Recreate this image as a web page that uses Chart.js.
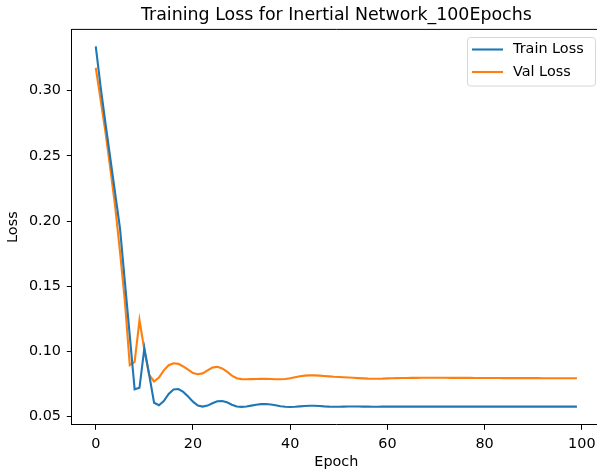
<!DOCTYPE html>
<html>
<head>
<meta charset="utf-8">
<script src="https://cdn.jsdelivr.net/npm/chart.js@4"></script>
<style>
  html, body { margin: 0; padding: 0; background: #fff; overflow: hidden; }
  #wrap { position: relative; width: 597px; height: 471px; overflow: hidden; }
  canvas { display: block; }
</style>
</head>
<body>
<div id="wrap"><canvas id="myChart" width="604" height="471"></canvas></div>
<script>
// eje X
var epochs = [];
for (var i = 0; i < 100; i++) epochs.push(i);

// eje Y
var trainLoss = [
  0.334, 0.303, 0.275, 0.248, 0.221, 0.194, 0.153, 0.112, 0.071, 0.0722,
  0.1025, 0.082, 0.0607, 0.0588, 0.062, 0.0675, 0.0708, 0.0712, 0.069, 0.0655,
  0.0615, 0.0585, 0.0577, 0.0585, 0.0603, 0.0618, 0.062, 0.061, 0.0592, 0.0578,
  0.0575, 0.0578, 0.0585, 0.0592, 0.0596, 0.0597, 0.0594, 0.0588, 0.058, 0.0576,
  0.0574, 0.0576, 0.0579, 0.0582, 0.0584, 0.0584, 0.0582, 0.0579, 0.0577, 0.0576,
  0.0576, 0.0577, 0.0578, 0.0578, 0.0578, 0.0577, 0.0577, 0.0576, 0.0576, 0.0577,
  0.0577, 0.0577, 0.0577, 0.0577, 0.0577, 0.0577, 0.0577, 0.0577, 0.0577, 0.0577,
  0.0577, 0.0577, 0.0577, 0.0577, 0.0577, 0.0577, 0.0577, 0.0577, 0.0577, 0.0577,
  0.0577, 0.0577, 0.0577, 0.0577, 0.0577, 0.0577, 0.0577, 0.0577, 0.0577, 0.0577,
  0.0577, 0.0577, 0.0577, 0.0577, 0.0577, 0.0577, 0.0577, 0.0577, 0.0577, 0.0577
];
var valLoss = [
  0.3176, 0.293, 0.268, 0.240, 0.211, 0.176, 0.138, 0.0896, 0.092, 0.124,
  0.101, 0.082, 0.077, 0.080, 0.0855, 0.0895, 0.091, 0.0905, 0.0885, 0.086,
  0.0835, 0.0826, 0.0832, 0.0855, 0.0877, 0.0882, 0.087, 0.0845, 0.0815, 0.0795,
  0.0788, 0.0787, 0.0788, 0.0789, 0.079, 0.079, 0.0789, 0.0787, 0.0787, 0.0789,
  0.0795, 0.0803, 0.081, 0.0815, 0.0817, 0.0817, 0.0815, 0.0812, 0.0809, 0.0806,
  0.0804, 0.0802, 0.080, 0.0798, 0.0796, 0.0794, 0.0792, 0.0791, 0.0791, 0.0792,
  0.0794, 0.0795, 0.0796, 0.0797, 0.0797, 0.0798, 0.0798, 0.0799, 0.0799, 0.0799,
  0.0799, 0.0799, 0.0799, 0.0798, 0.0798, 0.0798, 0.0798, 0.0798, 0.0797, 0.0797,
  0.0797, 0.0797, 0.0797, 0.0797, 0.0796, 0.0796, 0.0796, 0.0796, 0.0796, 0.0796,
  0.0796, 0.0796, 0.0795, 0.0795, 0.0795, 0.0795, 0.0795, 0.0795, 0.0795, 0.0795
];

var xTicks = [0, 20, 40, 60, 80, 100];
var yTicks = [0.05, 0.10, 0.15, 0.20, 0.25, 0.30];

var FONT = 'DejaVu Sans';

function puntos(ys) {
  return ys.map(function (v, i) { return { x: epochs[i], y: v }; });
}

// borde superior, titulo y leyenda al estilo matplotlib
var marco = {
  id: 'marco',
  afterDraw: function (chart) {
    var c = chart.ctx, a = chart.chartArea;
    c.save();
    c.strokeStyle = '#000';
    c.lineWidth = 1;
    c.beginPath();
    c.moveTo(a.left, a.top);
    c.lineTo(a.right, a.top);
    c.stroke();

    c.fillStyle = '#000';
    c.font = '17.4px "' + FONT + '"';
    c.textAlign = 'center';
    c.textBaseline = 'middle';
    c.fillText('Training Loss for Inertial Network_100Epochs', (a.left + a.right) / 2, 15);

    // leyenda
    var x0 = 467.5, y0 = 37.5, w = 128, h = 48.5, r = 3;
    c.beginPath();
    c.roundRect(x0, y0, w, h, r);
    c.fillStyle = 'rgba(255,255,255,0.8)';
    c.fill();
    c.strokeStyle = '#d6d6d6';
    c.stroke();
    c.font = '14.4px "' + FONT + '"';
    c.textAlign = 'left';
    chart.data.datasets.forEach(function (ds, k) {
      var yy = 49.5 + k * 22.5;
      c.strokeStyle = ds.borderColor;
      c.lineWidth = 2.1;
      c.beginPath();
      c.moveTo(472, yy);
      c.lineTo(503, yy);
      c.stroke();
      c.fillStyle = '#000';
      c.fillText(ds.label, 513, yy);
    });
    c.restore();
  }
};

var ctx = document.getElementById('myChart').getContext('2d');
var myChart = new Chart(ctx, {
  type: 'line',
  data: {
    datasets: [{
      label: 'Train Loss',
      data: puntos(trainLoss),
      borderColor: '#1f77b4',
      borderWidth: 2.1,
      pointRadius: 0,
      tension: 0,
      fill: false
    }, {
      label: 'Val Loss',
      data: puntos(valLoss),
      borderColor: '#ff7f0e',
      borderWidth: 2.1,
      pointRadius: 0,
      tension: 0,
      fill: false
    }]
  },
  options: {
    responsive: false,
    animation: false,
    devicePixelRatio: 1,
    layout: { padding: { left: 0, right: 3, top: 29.4, bottom: 0 } },
    plugins: {
      legend: { display: false },
      title: { display: false },
      tooltip: { enabled: false }
    },
    scales: {
      x: {
        type: 'linear',
        min: -4.95,
        max: 103.95,
        afterBuildTicks: function (s) { s.ticks = xTicks.map(function (v) { return { value: v }; }); },
        afterFit: function (s) {
          s.height = 46.1;
          s.paddingLeft = 0;
          s.paddingRight = 0;
        },
        grid: { drawOnChartArea: false, drawTicks: true, tickLength: 4.9, tickColor: '#000' },
        border: { display: true, color: '#000', width: 1 },
        ticks: {
          color: '#000',
          padding: 5.5,
          maxRotation: 0,
          font: { family: FONT, size: 14.4 },
          callback: function (v) { return String(v); }
        },
        title: {
          display: true,
          text: 'Epoch',
          color: '#000',
          font: { family: FONT, size: 14.4 },
          padding: 0.3
        }
      },
      y: {
        min: 0.0437,
        max: 0.347,
        afterBuildTicks: function (s) { s.ticks = yTicks.map(function (v) { return { value: v }; }); },
        afterFit: function (s) {
          s.width = 71.7;
          s.paddingTop = 0;
          s.paddingBottom = 0;
        },
        grid: { drawOnChartArea: false, drawTicks: true, tickLength: 4.9, tickColor: '#000' },
        border: { display: true, color: '#000', width: 1 },
        ticks: {
          color: '#000',
          padding: 5.8,
          font: { family: FONT, size: 14.4 },
          callback: function (v) { return v.toFixed(2); }
        },
        title: {
          display: true,
          text: 'Loss',
          color: '#000',
          font: { family: FONT, size: 14.4 },
          padding: 4.8
        }
      }
    }
  },
  plugins: [marco]
});
</script>
</body>
</html>
